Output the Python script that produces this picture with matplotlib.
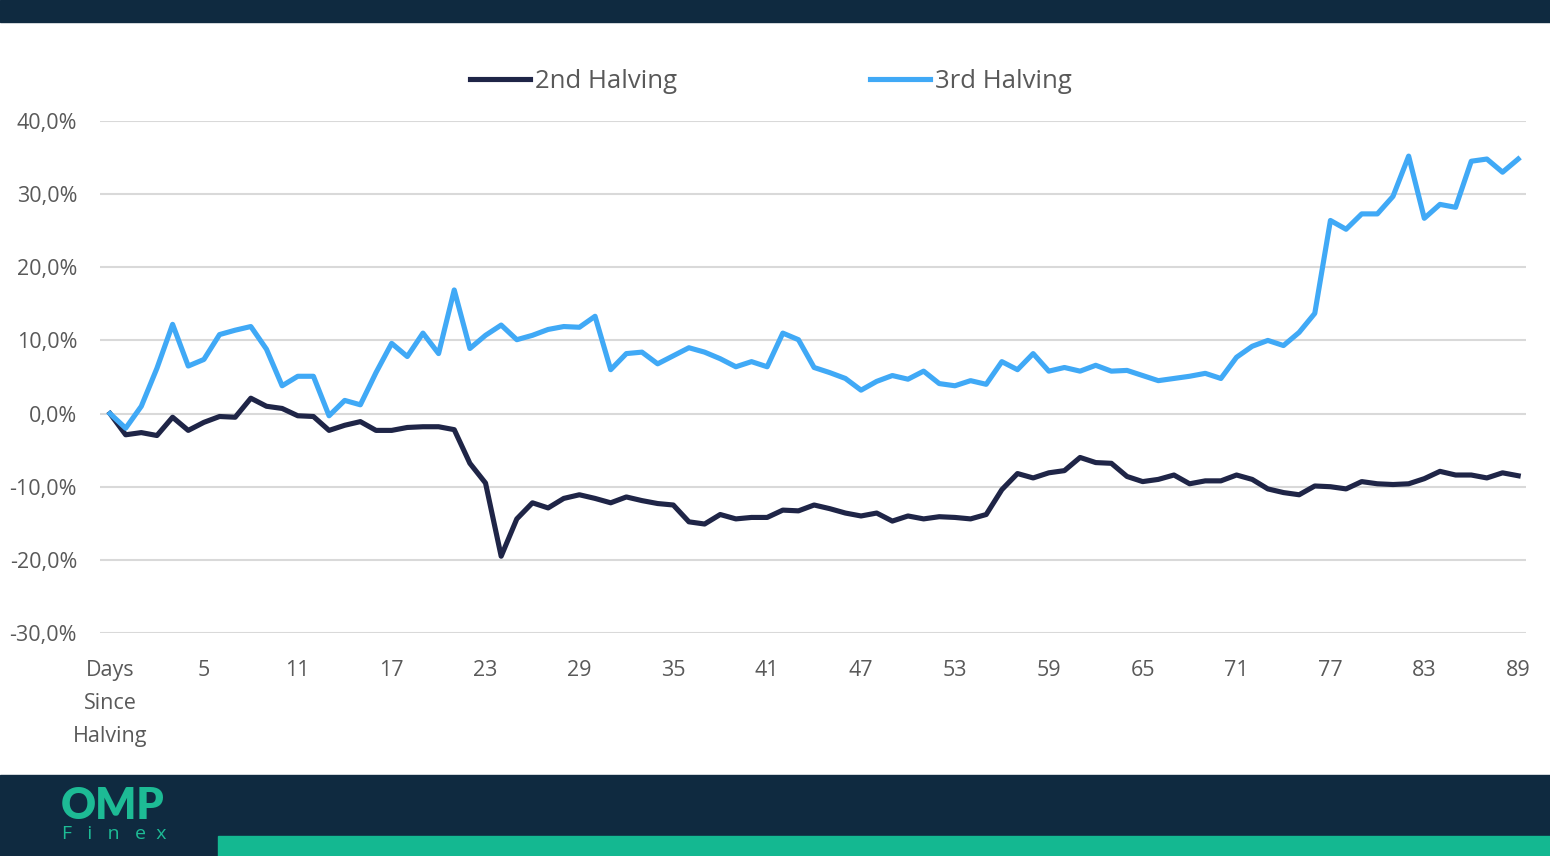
import matplotlib.pyplot as plt
from matplotlib.patches import Rectangle

plt.rcParams['font.family'] = ['Open Sans', 'DejaVu Sans']

# categorias: la primera es el texto del eje, luego los dias 0..89
categorias = ['Days\nSince\nHalving'] + [str(d) for d in range(0, 90)]

segundo = [0.0, -2.9, -2.6, -3.0, -0.5, -2.3, -1.2, -0.4, -0.5, 2.1,
           1.0, 0.7, -0.3, -0.4, -2.3, -1.6, -1.1, -2.3, -2.3, -1.9,
           -1.8, -1.8, -2.2, -6.8, -9.5, -19.5, -14.4, -12.2, -12.9, -11.6,
           -11.1, -11.6, -12.2, -11.4, -11.9, -12.3, -12.5, -14.8, -15.1, -13.8,
           -14.4, -14.2, -14.2, -13.2, -13.3, -12.5, -13.0, -13.6, -14.0, -13.6,
           -14.7, -14.0, -14.4, -14.1, -14.2, -14.4, -13.8, -10.4, -8.2, -8.8,
           -8.1, -7.8, -6.0, -6.7, -6.8, -8.6, -9.3, -9.0, -8.4, -9.6,
           -9.2, -9.2, -8.4, -9.0, -10.3, -10.8, -11.1, -9.9, -10.0, -10.3,
           -9.3, -9.6, -9.7, -9.6, -8.9, -7.9, -8.4, -8.4, -8.8, -8.1,
           -8.5]

tercero = [0.0, -2.0, 1.0, 6.2, 12.2, 6.5, 7.4, 10.8, 11.4, 11.9,
           8.8, 3.8, 5.1, 5.1, -0.3, 1.8, 1.2, 5.6, 9.6, 7.8,
           11.0, 8.2, 16.9, 8.9, 10.7, 12.1, 10.1, 10.7, 11.5, 11.9,
           11.8, 13.3, 6.0, 8.2, 8.4, 6.8, 7.9, 9.0, 8.4, 7.5,
           6.4, 7.1, 6.4, 11.0, 10.1, 6.3, 5.6, 4.8, 3.2, 4.4,
           5.2, 4.7, 5.8, 4.1, 3.8, 4.5, 4.0, 7.1, 6.0, 8.2,
           5.8, 6.3, 5.8, 6.6, 5.8, 5.9, 5.2, 4.5, 4.8, 5.1,
           5.5, 4.8, 7.7, 9.2, 10.0, 9.3, 11.1, 13.7, 26.4, 25.2,
           27.3, 27.3, 29.7, 35.2, 26.7, 28.6, 28.2, 34.5, 34.8, 33.0,
           34.8]

valores_y = [-30, -20, -10, 0, 10, 20, 30, 40]
etiquetas_y = ['-30,0%', '-20,0%', '-10,0%', '0,0%', '10,0%', '20,0%', '30,0%', '40,0%']

color_fondo = '#0f2a40'
color_verde = '#14b891'

fig = plt.figure(figsize=(15.5, 8.56), dpi=100)
fig.patch.set_facecolor('white')

# bandas oscuras arriba y abajo
fig.patches.append(Rectangle((0, 1 - 22/856), 1, 22/856, transform=fig.transFigure,
                             color=color_fondo, zorder=0))
fig.patches.append(Rectangle((0, 0), 1, 81/856, transform=fig.transFigure,
                             color=color_fondo, zorder=0))
fig.patches.append(Rectangle((218/1550, 0), 1 - 218/1550, 20/856, transform=fig.transFigure,
                             color=color_verde, zorder=1))

# logo
fig.text(61/1550, 1 - 806/856, 'OMP', color='#1dbb95', fontsize=31, fontweight='heavy',
         va='center', ha='left', family=['Lato', 'DejaVu Sans'], zorder=5)
fig.text(62/1550, 1 - 834/856, 'F   i   n   e  x', color='#1dbb95', fontsize=14,
         va='center', ha='left', family=['Open Sans', 'DejaVu Sans'], zorder=5)

ax = fig.add_axes([100/1550, 1 - 633/856, 1426/1550, 512/856])
x = list(range(len(categorias)))
ax.plot(x, segundo, color='#1f2547', lw=3.7, label='2nd Halving', solid_joinstyle='round')
ax.plot(x, tercero, color='#40a9f6', lw=3.7, label='3rd Halving', solid_joinstyle='round')

ax.set_xlim(-0.64, 90.5)
ax.set_ylim(-30, 40)
ax.set_yticks(valores_y)
ax.set_yticklabels(etiquetas_y)
ax.set_xticks(x[::6])
ax.set_xticklabels(categorias[::6], linespacing=1.75)
ax.tick_params(length=0, labelsize=15.5, labelcolor='#595959')
ax.tick_params(axis='x', pad=19.5)
ax.tick_params(axis='y', pad=16.5)
ax.grid(axis='y', color='#d9d9d9', lw=1.5)
ax.set_axisbelow(True)
for s in ax.spines.values():
    s.set_visible(False)

ax.legend(loc='center', bbox_to_anchor=(771/1550, 1 - 81/856), bbox_transform=fig.transFigure,
          ncol=2, frameon=False, fontsize=18.5, handlelength=2.33, handletextpad=0.2,
          columnspacing=7.5, labelcolor='#595959')

fig.savefig('out.png', dpi=100)
